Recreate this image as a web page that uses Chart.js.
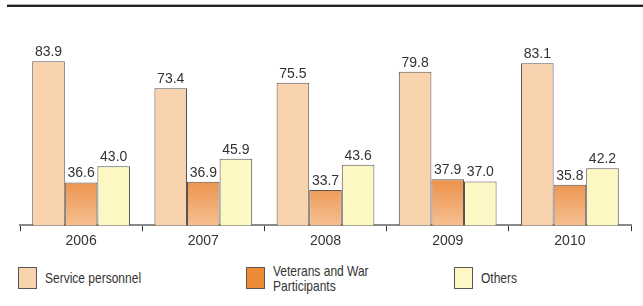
<!DOCTYPE html>
<html>
<head>
<meta charset="utf-8">
<script src="https://cdn.jsdelivr.net/npm/chart.js@4.4.1/dist/chart.umd.min.js"></script>
<style>
  body { margin: 0; background: #fff; width: 643px; height: 306px; position: relative; overflow: hidden;
    font-family: "Liberation Sans", Arial, sans-serif; color: #333; }
  .topline { position: absolute; left: 7px; right: 0; top: 4px; height: 2px; background: #222; border-top: 1px solid #aaa; }
  #wrap { position: absolute; left: 0; top: 0; width: 643px; height: 252px; }
  .legend { position: absolute; top: 267px; left: 0; width: 643px; font-size: 15px; }
  .item { position: absolute; top: 0; height: 22px; }
  .sw { position: absolute; left: 0; top: 0; width: 19px; height: 22px; border: 1px solid #555; box-sizing: border-box; }
  .lbl { position: absolute; left: 27px; white-space: nowrap; line-height: 15px; transform: scaleX(0.8); transform-origin: left center; }
</style>
</head>
<body>
<div class="topline"></div>
<div id="wrap"><canvas id="chart"></canvas></div>
<div class="legend" id="legend"></div>
<script>
const years = ["2006", "2007", "2008", "2009", "2010"];
const seriesNames = ["Service personnel", "Veterans and War\nParticipants", "Others"];
const servicePersonnel = [83.9, 73.4, 75.5, 79.8, 83.1];
const veterans = [36.6, 36.9, 33.7, 37.9, 35.8];
const others = [43.0, 45.9, 43.6, 37.0, 42.2];
const yMin = 20;
const yMax = 100;

const colors = ["#f9d3ae", "#ee8a35", "#fdf8c3"];
const legendX = [18, 246, 454];
const fontFamily = "'Liberation Sans', Arial, sans-serif";

function vetGradient(context) {
  const chart = context.chart;
  const area = chart.chartArea;
  if (!area) return colors[1];
  const top = chart.scales.y.getPixelForValue(38);
  const g = chart.ctx.createLinearGradient(0, top, 0, area.bottom);
  g.addColorStop(0, "#ec914a");
  g.addColorStop(1, "#f6bf90");
  return g;
}

const valueLabels = {
  id: "valueLabels",
  afterDatasetsDraw(chart) {
    const ctx = chart.ctx;
    ctx.save();
    ctx.font = "14px " + fontFamily;
    ctx.fillStyle = "#333";
    ctx.textAlign = "center";
    ctx.textBaseline = "bottom";
    chart.data.datasets.forEach((ds, i) => {
      chart.getDatasetMeta(i).data.forEach((bar, j) => {
        ctx.fillText(ds.data[j].toFixed(1), bar.x, bar.y - 2);
      });
    });
    ctx.restore();
  }
};

new Chart(document.getElementById("chart"), {
  type: "bar",
  data: {
    labels: years,
    datasets: [
      { label: seriesNames[0], data: servicePersonnel, backgroundColor: colors[0] },
      { label: seriesNames[1], data: veterans, backgroundColor: vetGradient },
      { label: seriesNames[2], data: others, backgroundColor: colors[2] }
    ].map(d => Object.assign(d, { borderColor: "#555", borderWidth: 1, borderSkipped: "bottom",
      categoryPercentage: 0.8, barPercentage: 1.0 }))
  },
  options: {
    responsive: true,
    maintainAspectRatio: false,
    animation: false,
    layout: { padding: { left: 20, right: 12, top: 20, bottom: 0 } },
    plugins: { legend: { display: false }, tooltip: { enabled: false } },
    scales: {
      x: {
        grid: { display: true, drawOnChartArea: false, drawTicks: true, tickLength: 6, color: "#333", offset: true },
        border: { display: true, color: "#8a8a8a", width: 2 },
        ticks: { color: "#333", padding: 2, font: { size: 14, family: fontFamily } }
      },
      y: { display: false, min: yMin, max: yMax }
    }
  },
  plugins: [valueLabels]
});

const legend = document.getElementById("legend");
seriesNames.forEach((name, i) => {
  const item = document.createElement("div");
  item.className = "item";
  item.style.left = legendX[i] + "px";
  const sw = document.createElement("div");
  sw.className = "sw";
  sw.style.background = colors[i];
  const lbl = document.createElement("div");
  lbl.className = "lbl";
  const lines = name.split("\n");
  lbl.innerHTML = lines.join("<br>");
  lbl.style.top = (lines.length > 1 ? -4 : 3) + "px";
  item.appendChild(sw);
  item.appendChild(lbl);
  legend.appendChild(item);
});
</script>
</body>
</html>
